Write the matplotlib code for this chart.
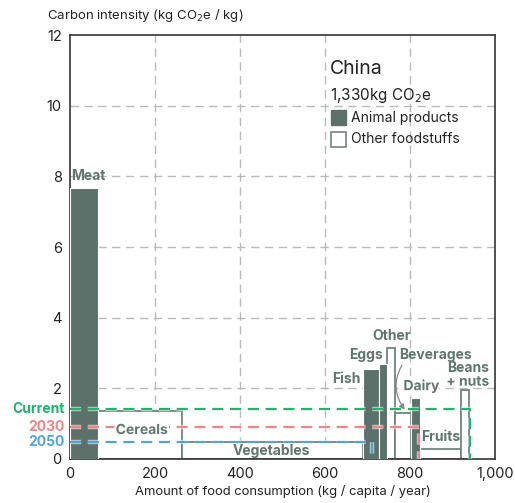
import matplotlib
matplotlib.use("Agg")
import matplotlib.pyplot as plt
import matplotlib.patheffects as pe
from matplotlib.patches import Rectangle

plt.rcParams['font.family'] = ['Inter', 'DejaVu Sans']

categories = ["Meat", "Cereals", "Vegetables", "Fish", "Eggs", "Other",
              "Beverages", "Dairy", "Fruits", "Beans + nuts"]
consumption = [67, 196, 427, 36, 21, 18, 38, 20, 98, 17]
intensity = [7.66, 1.36, 0.47, 2.54, 2.69, 3.15, 1.29, 1.72, 0.27, 1.95]
is_animal = [True, False, False, True, True, False, False, True, False, False]

scenarios = ["Current", "2030", "2050"]
scenario_intensity = [1.415, 0.915, 0.49]
scenario_amount = [940, 820, 710]
scenario_colors = ["#1fb36c", "#ef8585", "#4ea5de"]

xticks = [0, 200, 400, 600, 800, 1000]
xtick_labels = ["0", "200", "400", "600", "800", "1,000"]
yticks = [0, 2, 4, 6, 8, 10, 12]

DARK = "#5b7169"
EDGE = "#6f8580"
TXT = "#5f766e"

fig = plt.figure(figsize=(5.15, 5.03), dpi=100)
ax = fig.add_axes([70/515, 44/503, 425/515, 424/503])
ax.set_xlim(0, 1000)
ax.set_ylim(0, 12)

# grid
for x in [200, 400, 600, 800]:
    ax.axvline(x, color="#bababa", lw=1, ls=(0, (6, 4)), zorder=0)
for y in [2, 4, 6, 8, 10]:
    ax.axhline(y, color="#bababa", lw=1, ls=(0, (6, 4)), zorder=0)

# bars
lefts = []
acc = 0
for w in consumption:
    lefts.append(acc)
    acc += w
for l, w, h, a in zip(lefts, consumption, intensity, is_animal):
    if a:
        ax.bar(l, h, w, align='edge', color=DARK, edgecolor="white", lw=0.8, zorder=3)
    else:
        ax.bar(l, h, w, align='edge', facecolor="white", edgecolor=EDGE, lw=1.3, zorder=2)

# scenario lines
for name, yv, xv, c in zip(scenarios, scenario_intensity, scenario_amount, scenario_colors):
    ax.plot([0, xv, xv], [yv, yv, 0], color=c, lw=1.6, ls=(0, (5, 3)), zorder=4,
            path_effects=[pe.Stroke(linewidth=3.2, foreground="white", alpha=0.6), pe.Normal()],
            clip_on=False)
    ax.annotate(name, xy=(0, yv), xytext=(-4, 0), textcoords="offset points",
                ha="right", va="center", color=c, fontsize=10, fontweight="bold")

# labels
lab = dict(color=TXT, fontsize=10, fontweight="bold", zorder=6)
ax.text(2, 8.0, "Meat", ha="left", va="center", **lab)
ax.text(169, 0.82, "Cereals", ha="center", va="center",
        path_effects=[pe.withStroke(linewidth=3, foreground="white")], **lab)
ax.text(475, 0.24, "Vegetables", ha="center", va="center", **lab)
ax.text(651, 2.27, "Fish", ha="center", va="center", **lab)
ax.text(696, 2.94, "Eggs", ha="center", va="center", **lab)
ax.text(757, 3.48, "Other", ha="center", va="center", **lab)
ax.text(859, 2.94, "Beverages", ha="center", va="center", **lab)
ax.text(827, 2.07, "Dairy", ha="center", va="center",
        path_effects=[pe.withStroke(linewidth=3, foreground="white")], **lab)
ax.text(936, 2.57, "Beans", ha="center", va="center", **lab)
ax.text(936, 2.19, "+ nuts", ha="center", va="center",
        path_effects=[pe.withStroke(linewidth=3, foreground="white")], **lab)
ax.text(872, 0.61, "Fruits", ha="center", va="center", **lab)

ax.annotate("", xy=(792, 1.33), xytext=(784, 2.72),
            arrowprops=dict(arrowstyle="-|>", color="#8a8a8a", lw=0.9,
                            connectionstyle="arc3,rad=0.35", mutation_scale=8),
            zorder=7)

# legend block
ax.text(612, 11.03, "China", fontsize=14, color="#222222", ha="left", va="center")
ax.text(612, 10.30, "1,330kg CO$_2$e", fontsize=11, color="#222222", ha="left", va="center")
ax.add_patch(Rectangle((614, 9.44), 35, 0.43, facecolor=DARK, edgecolor=DARK, lw=1, zorder=5))
ax.text(662, 9.64, "Animal products", fontsize=10, color="#222222", ha="left", va="center")
ax.add_patch(Rectangle((614, 8.83), 35, 0.42, facecolor="white", edgecolor=EDGE, lw=1.2, zorder=5))
ax.text(662, 9.05, "Other foodstuffs", fontsize=10, color="#222222", ha="left", va="center")

ax.set_xticks(xticks)
ax.set_xticklabels(xtick_labels)
ax.set_yticks(yticks)
ax.tick_params(length=0, labelsize=10.5, colors="#222222", pad=6)
for s in ax.spines.values():
    s.set_color("#333333")
    s.set_linewidth(1.2)

ax.set_xlabel("Amount of food consumption (kg / capita / year)", fontsize=9.4, color="#222222", labelpad=3)
fig.text(47/515, 1 - 15/503, "Carbon intensity (kg CO$_2$e / kg)", fontsize=9.5, color="#222222",
         ha="left", va="center")

fig.savefig("out.png", dpi=100)
